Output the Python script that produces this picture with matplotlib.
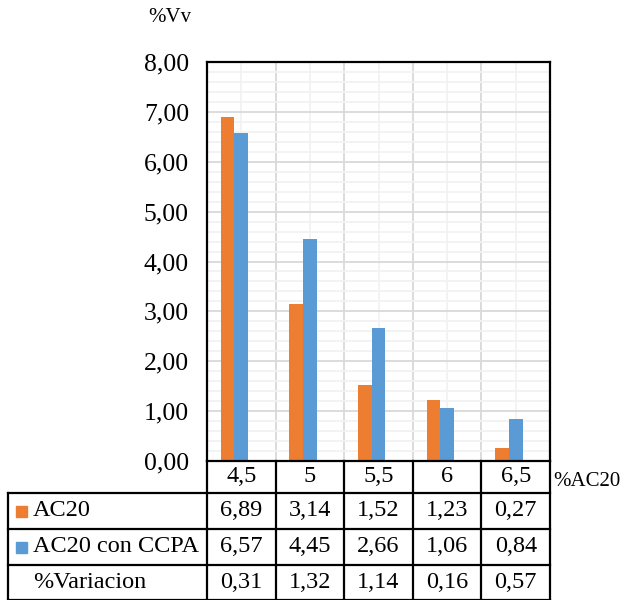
import numpy as np
import matplotlib.pyplot as plt
from matplotlib.patches import Rectangle
from matplotlib.ticker import MultipleLocator, FixedLocator, NullFormatter

plt.rcParams['font.family'] = ['Liberation Serif', 'DejaVu Serif']

# data
categories = ['4,5', '5', '5,5', '6', '6,5']
ac20 = [6.89, 3.14, 1.52, 1.23, 0.27]
ac20_ccpa = [6.57, 4.45, 2.66, 1.06, 0.84]
variacion = [0.31, 1.32, 1.14, 0.16, 0.57]
series_names = ['AC20', 'AC20 con CCPA', '%Variacion']

orange = '#ED7D31'
blue = '#5B9BD5'
fs = 17.5

def fmt(v):
    return f'{v:.2f}'.replace('.', ',')

W, H = 621, 600
fig = plt.figure(figsize=(W / 100, H / 100), dpi=100)

# plot area in pixels
left, right, top, bottom = 207, 550, 62, 461
ax = fig.add_axes([left / W, 1 - bottom / H, (right - left) / W, (bottom - top) / H])

x = np.arange(len(categories))
ax.bar(x - 0.2, ac20, 0.2, color=orange, zorder=3)
ax.bar(x, ac20_ccpa, 0.2, color=blue, zorder=3)

ax.set_xlim(-0.5, len(categories) - 0.5)
ax.set_ylim(0, 8)
ax.yaxis.set_major_locator(MultipleLocator(1))
ax.yaxis.set_minor_locator(MultipleLocator(0.2))
ax.set_yticklabels([fmt(v) for v in ax.get_yticks()])
ax.xaxis.set_major_locator(FixedLocator(np.arange(0.5, len(categories) - 0.5)))
ax.xaxis.set_minor_locator(FixedLocator(x))
ax.xaxis.set_major_formatter(NullFormatter())
ax.grid(which='major', color='#d9d9d9', lw=1.3, zorder=1)
ax.grid(which='minor', color='#f2f2f2', lw=1.3, zorder=0)
ax.tick_params(which='both', length=0)
ax.tick_params(axis='y', labelsize=18.5, pad=13)
for s in ax.spines.values():
    s.set_color('black')
    s.set_linewidth(1.6)
    s.set_zorder(4)

fig.text(148 / W, 1 - 18 / H, '%Vv', fontsize=15, ha='left', va='center')

# data table under the plot
t_left, t_bottom = 8, 600
tax = fig.add_axes([t_left / W, 1 - t_bottom / H, (right - t_left) / W, (t_bottom - bottom) / H])
unit = (right - left) / len(categories)
x0 = -0.5 - (left - t_left) / unit
x1 = len(categories) - 0.5
tax.set_xlim(x0, x1)
tax.set_ylim(t_bottom - bottom, 0)
tax.axis('off')

rows = [0, 32, 68, 104, 139]
lw = 1.6
for k in range(len(categories) + 1):
    tax.plot([k - 0.5, k - 0.5], [0, rows[-1]], color='black', lw=lw, clip_on=False)
tax.plot([x0, x0], [rows[1], rows[-1]], color='black', lw=lw, clip_on=False)
for r in rows[1:]:
    tax.plot([x0, x1], [r, r], color='black', lw=lw, clip_on=False)

def mid(i):
    return (rows[i] + rows[i + 1]) / 2

for i, c in enumerate(categories):
    tax.text(i, mid(0), c, fontsize=fs, ha='center', va='center')
for r, vals in enumerate([ac20, ac20_ccpa, variacion], start=1):
    for i, v in enumerate(vals):
        tax.text(i, mid(r), fmt(v), fontsize=fs, ha='center', va='center')

key_w = 11 / unit
for r, (name, col) in enumerate(zip(series_names, [orange, blue, None]), start=1):
    if col:
        tax.add_patch(Rectangle((x0 + 8 / unit, mid(r) - 5.5), key_w, 11, color=col, clip_on=False))
    tax.text(x0 + 25 / unit, mid(r), name, fontsize=fs, ha='left', va='center')

tax.text(x1 + 3 / unit, mid(0) + 4, '%AC20', fontsize=15, ha='left', va='center')

fig.savefig('out.png', dpi=100)
